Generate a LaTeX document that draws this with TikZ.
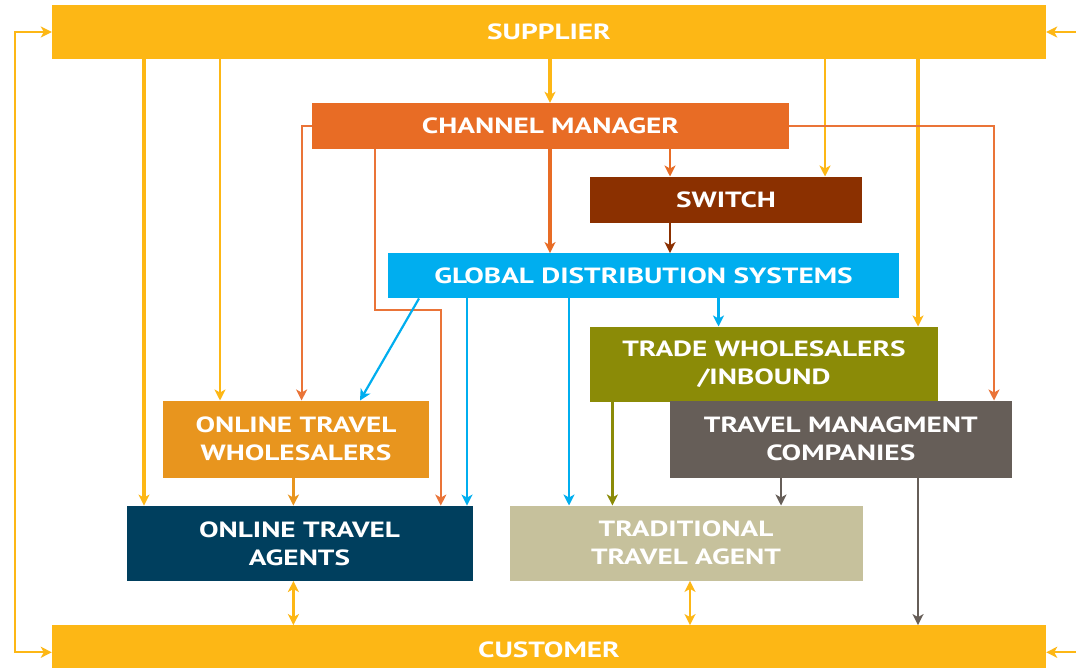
\documentclass[tikz,border=0pt]{standalone}
\usepackage{fontspec}
\setmainfont{PT Sans}[FakeStretch=1.33]
\usetikzlibrary{arrows.meta}
\definecolor{supcol}{RGB}{253,183,21}
\definecolor{cmcol}{RGB}{232,108,37}
\definecolor{swcol}{RGB}{139,48,0}
\definecolor{gdscol}{RGB}{0,174,239}
\definecolor{twcol}{RGB}{139,139,7}
\definecolor{tmccol}{RGB}{102,94,88}
\definecolor{otwcol}{RGB}{232,149,30}
\definecolor{otacol}{RGB}{0,63,94}
\definecolor{ttacol}{RGB}{198,193,156}
\definecolor{cmline}{RGB}{234,116,56}
\tikzset{
  box/.style={rectangle, inner sep=0pt, text=white, align=center,
    font=\fontsize{22}{28}\selectfont\bfseries},
  conn/.style={line width=2.2pt, -{Stealth[length=11pt,width=11pt,inset=3pt]}},
  heavy/.style={conn, line width=3.2pt},
  both/.style={line width=2.6pt, {Stealth[length=11pt,width=11pt,inset=3pt]}-{Stealth[length=11pt,width=11pt,inset=3pt]}},
}
\begin{document}
\begin{tikzpicture}[x=1pt,y=-1pt]
\clip (0,0) rectangle (1076,668);
\useasboundingbox (0,0) rectangle (1076,668);
\fill[white] (0,0) rectangle (1076,668);

% boxes
\node[box, fill=supcol, minimum width=994pt, minimum height=54pt] (sup) at (549,32) {SUPPLIER};
\node[box, fill=cmcol, minimum width=477pt, minimum height=46pt] (cm) at (550.5,126) {CHANNEL MANAGER};
\node[box, fill=swcol, minimum width=272pt, minimum height=46pt] (sw) at (726,199.7) {SWITCH};
\node[box, fill=gdscol, minimum width=511pt, minimum height=45pt] (gds) at (643.5,275.8) {GLOBAL DISTRIBUTION SYSTEMS};
\node[box, fill=twcol, minimum width=348pt, minimum height=75pt] (tw) at (764,364.2) {TRADE WHOLESALERS\\/INBOUND};
\node[box, fill=tmccol, minimum width=342pt, minimum height=77pt] (tmc) at (840.8,439.2) {TRAVEL MANAGMENT\\COMPANIES};
\node[box, fill=otwcol, minimum width=266pt, minimum height=77pt] (otw) at (296,439.2) {ONLINE TRAVEL\\WHOLESALERS};
\node[box, fill=otacol, minimum width=346pt, minimum height=75pt] (ota) at (299.5,543.3) {ONLINE TRAVEL\\AGENTS};
\node[box, fill=ttacol, minimum width=353pt, minimum height=75pt] (tta) at (686,543.2) {TRADITIONAL\\TRAVEL AGENT};
\node[box, fill=supcol, minimum width=994pt, minimum height=54pt] (cust) at (549,652.3) {\raisebox{5pt}{CUSTOMER}};

% helper columns and bends
\coordinate (c144) at (144,0);
\coordinate (c220) at (220,0);
\coordinate (c293) at (293.4,0);
\coordinate (c302) at (301.6,0);
\coordinate (c360) at (360,0);
\coordinate (c419) at (419,0);
\coordinate (c467) at (467,0);
\coordinate (c550) at (550,0);
\coordinate (c569) at (569,0);
\coordinate (c612) at (612.4,0);
\coordinate (c670) at (670,0);
\coordinate (c690) at (690,0);
\coordinate (c718) at (718.5,0);
\coordinate (c781) at (781,0);
\coordinate (c825) at (825,0);
\coordinate (c918) at (918,0);
\coordinate (c994) at (994,0);
\coordinate (k1) at (375.3,310);
\coordinate (k2) at (440.8,310);
\coordinate (lx) at (14.5,0);
\coordinate (rx) at (1082,0);

% supplier feeds
\draw[heavy, supcol] (sup.south -| c144) -- (ota.north -| c144);
\draw[conn, supcol, line width=2.8pt] (sup.south -| c220) -- (otw.north -| c220);
\draw[heavy, supcol] (sup.south -| c550) -- (cm.north -| c550);
\draw[conn, supcol, line width=2.8pt] (sup.south -| c825) -- (sw.north -| c825);
\draw[heavy, supcol] (sup.south -| c918) -- (tw.north -| c918);

% channel manager feeds
\draw[conn, cmline] (cm.west) -| (otw.north -| c302);
\draw[conn, cmline] (cm.south -| k1) -- (k1) -- (k2) -- (ota.north -| k2);
\draw[heavy, cmcol] (cm.south -| c550) -- (gds.north -| c550);
\draw[conn, cmcol, line width=2.8pt] (cm.south -| c670) -- (sw.north -| c670);
\draw[conn, cmline] (cm.east) -| (tmc.north -| c994);

% switch
\draw[conn, swcol, line width=2.8pt] (sw.south -| c670) -- (gds.north -| c670);

% global distribution systems
\draw[conn, gdscol] (gds.south -| c419) -- (otw.north -| c360);
\draw[conn, gdscol] (gds.south -| c467) -- (ota.north -| c467);
\draw[conn, gdscol] (gds.south -| c569) -- (tta.north -| c569);
\draw[conn, gdscol] (gds.south -| c718) -- (tw.north -| c718);

% intermediaries
\draw[conn, otwcol, line width=2.8pt] (otw.south -| c293) -- (ota.north -| c293);
\draw[conn, twcol, line width=2.8pt] (tw.south -| c612) -- (tta.north -| c612);
\draw[conn, tmccol, line width=2.8pt] (tmc.south -| c781) -- (tta.north -| c781);
\draw[conn, tmccol, line width=2.8pt] (tmc.south -| c918) -- (cust.north -| c918);

% agents and customer
\draw[both, supcol] (ota.south -| c293) -- (cust.north -| c293);
\draw[both, supcol] (tta.south -| c690) -- (cust.north -| c690);

% feedback loops
\draw[both, supcol, line width=2pt] (sup.west) -- (lx |- sup.west) -- (lx |- cust.west) -- (cust.west);
\draw[both, supcol, line width=2pt] (sup.east) -- (rx |- sup.east) -- (rx |- cust.east) -- (cust.east);
\end{tikzpicture}
\end{document}
